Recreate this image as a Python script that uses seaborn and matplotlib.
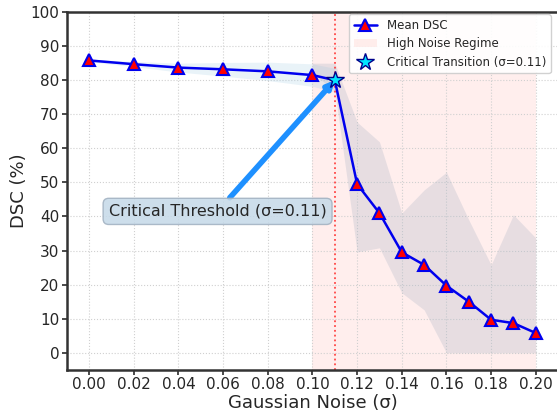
import numpy as np
import pandas as pd
import matplotlib
matplotlib.use("Agg")
import matplotlib.pyplot as plt
import seaborn as sns
from matplotlib.patches import Patch
from matplotlib.lines import Line2D

noise = [0.00, 0.02, 0.04, 0.06, 0.08, 0.10, 0.11, 0.12, 0.13, 0.14, 0.15, 0.16, 0.17, 0.18, 0.19, 0.20]
mean_dsc = [85.8, 84.7, 83.7, 83.2, 82.6, 81.5, 80.0, 49.5, 41.0, 29.5, 25.8, 19.7, 15.0, 9.7, 8.7, 5.8]

low_x = [0.00, 0.02, 0.04, 0.06, 0.08, 0.10, 0.11]
low_upper = [86.2, 85.5, 85.0, 85.2, 85.3, 84.8, 83.5]
low_lower = [85.4, 84.0, 82.4, 81.2, 79.9, 78.2, 76.5]

high_x = [0.10, 0.11, 0.12, 0.13, 0.14, 0.15, 0.16, 0.17, 0.18, 0.19, 0.20]
high_upper = [85.0, 85.0, 67.7, 61.9, 41.0, 47.8, 53.0, 39.0, 25.8, 40.5, 33.7]
high_lower = [82.0, 77.0, 29.6, 30.8, 17.6, 12.6, 0.0, 0.0, 0.0, 0.0, 0.0]

crit_x = 0.11
crit_y = 80.0
xticks = [0.00, 0.02, 0.04, 0.06, 0.08, 0.10, 0.12, 0.14, 0.16, 0.18, 0.20]
yticks = [0, 10, 20, 30, 40, 50, 60, 70, 80, 90, 100]

sns.set_theme(style="whitegrid")
plt.rcParams['font.family'] = ['DejaVu Sans']

fig = plt.figure(figsize=(5.57, 4.16), dpi=100)
ax = fig.add_axes([0.120, 0.111, 0.882, 0.860])

ax.axvspan(0.10, 0.20, color='#ffd6d2', alpha=0.4, lw=0, zorder=0)
ax.fill_between(low_x, low_lower, low_upper, color='#a8d0e6', alpha=0.25, lw=0, zorder=1)
ax.fill_between(high_x, high_lower, high_upper, color='#b0b8c8', alpha=0.3, lw=0, zorder=1)
ax.axvline(crit_x, color='red', ls=':', lw=1.3, alpha=0.7, zorder=2)

df = pd.DataFrame({"noise": noise, "dsc": mean_dsc})
marks = [i for i in range(len(noise)) if noise[i] != crit_x]
sns.lineplot(data=df, x="noise", y="dsc", ax=ax, color='#0000ee', lw=1.8,
             marker='^', markersize=8, markerfacecolor='red', markeredgecolor='#0000ee',
             markeredgewidth=1.5, markevery=marks, zorder=4)
ax.plot([crit_x], [crit_y], marker='*', markersize=13, markerfacecolor='#00e5ff',
        markeredgecolor='#00008b', markeredgewidth=1.0, ls='none', zorder=6)

ax.annotate("Critical Threshold (σ=0.11)", xy=(crit_x, crit_y), xytext=(0.0575, 41.5),
            fontsize=11.5, ha='center', va='center',
            bbox=dict(boxstyle='round,pad=0.35', fc='#c5d9e8', ec='#a0b0c0', alpha=0.85),
            arrowprops=dict(arrowstyle='-|>', color='#1e90ff', lw=4, mutation_scale=10,
                            shrinkA=0, shrinkB=0), zorder=5)

ax.set_xlim(-0.01, 0.21)
ax.set_ylim(-5, 100)
ax.set_xticks(xticks)
ax.set_xticklabels([f"{t:.2f}" for t in xticks])
ax.set_yticks(yticks)
ax.tick_params(axis='both', labelsize=11, length=3.5, pad=2, color='#333333', left=True, bottom=True)
ax.set_xlabel("Gaussian Noise (σ)", fontsize=13, labelpad=1)
ax.set_ylabel("DSC (%)", fontsize=13, labelpad=2)
ax.grid(True, ls=':', color='#d0d0d0', lw=0.8)
ax.set_facecolor('white')
for s in ax.spines.values():
    s.set_color('#333333')
    s.set_linewidth(1.8)

handles = [
    Line2D([0], [0], color='#0000ee', lw=1.8, marker='^', markersize=8, markerfacecolor='red',
           markeredgecolor='#0000ee', markeredgewidth=1.5),
    Patch(facecolor='#ffd6d2', alpha=0.4, edgecolor='none'),
    Line2D([0], [0], marker='*', markersize=13, markerfacecolor='#00e5ff', markeredgecolor='#00008b',
           ls='none'),
]
ax.legend(handles, ["Mean DSC", "High Noise Regime", "Critical Transition (σ=0.11)"],
          loc='upper right', fontsize=8.5, frameon=True, framealpha=0.9, edgecolor='#cccccc',
          bbox_to_anchor=(0.99, 1.0), borderaxespad=0.2, labelspacing=0.45)

fig.savefig("out.png", dpi=100)
